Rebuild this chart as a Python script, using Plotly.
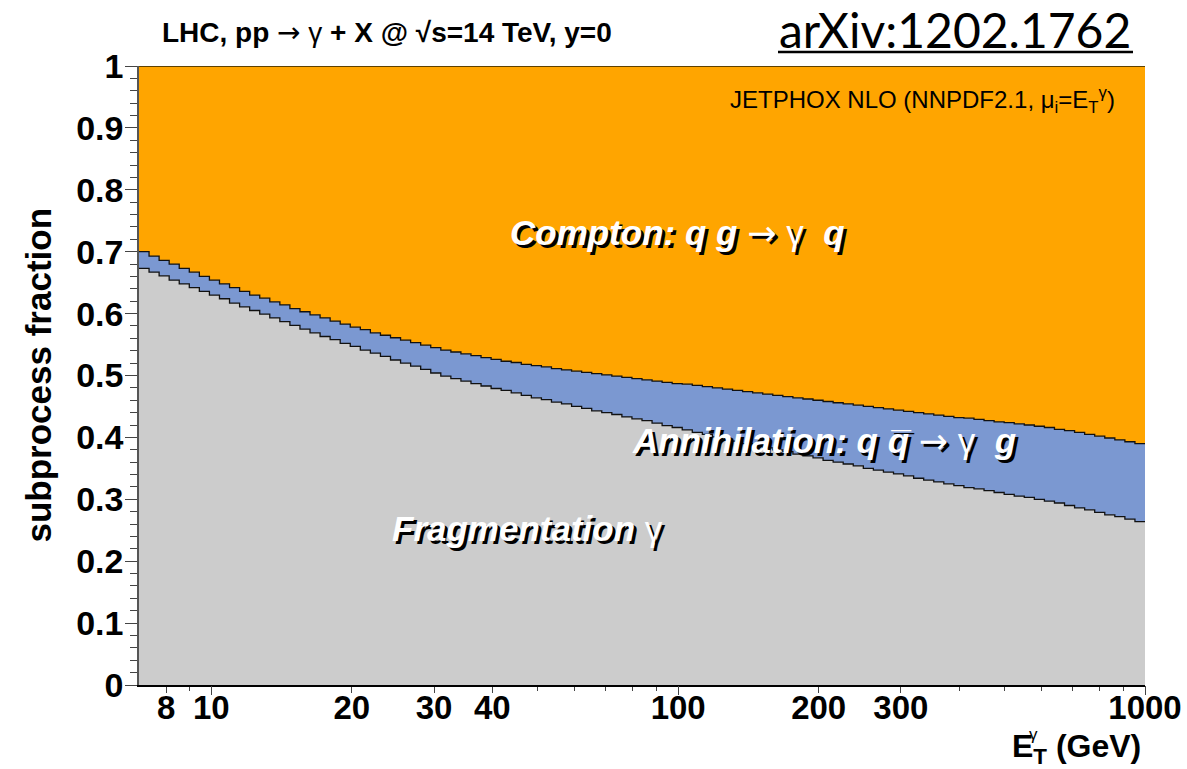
import numpy as np
import plotly.graph_objects as go

# Subprocess fractions vs photon E_T (100 log-spaced bins, 7 GeV - 1 TeV)
et_min, et_max, n_bins = 7.0, 1000.0, 100

# Fragmentation fraction per bin
frag = [
    0.673, 0.667, 0.661, 0.654, 0.648, 0.642, 0.636, 0.630, 0.624, 0.617,
    0.611, 0.605, 0.599, 0.593, 0.587, 0.581, 0.575, 0.569, 0.563, 0.558,
    0.552, 0.547, 0.541, 0.536, 0.531, 0.525, 0.520, 0.515, 0.510, 0.504,
    0.499, 0.495, 0.491, 0.487, 0.483, 0.479, 0.476, 0.472, 0.468, 0.464,
    0.461, 0.457, 0.454, 0.450, 0.447, 0.443, 0.440, 0.437, 0.433, 0.430,
    0.427, 0.423, 0.419, 0.416, 0.412, 0.408, 0.405, 0.401, 0.397, 0.394,
    0.390, 0.387, 0.383, 0.380, 0.377, 0.373, 0.370, 0.367, 0.363, 0.360,
    0.357, 0.354, 0.350, 0.347, 0.344, 0.341, 0.338, 0.334, 0.331, 0.328,
    0.325, 0.322, 0.319, 0.317, 0.314, 0.311, 0.308, 0.305, 0.303, 0.300,
    0.297, 0.294, 0.290, 0.286, 0.283, 0.279, 0.275, 0.272, 0.268, 0.264,
]

# Fragmentation + annihilation (stacked) per bin; Compton fills the rest up to 1
frag_annih = [
    0.700, 0.693, 0.686, 0.680, 0.673, 0.667, 0.660, 0.654, 0.648, 0.642,
    0.636, 0.630, 0.625, 0.619, 0.614, 0.608, 0.603, 0.598, 0.593, 0.588,
    0.583, 0.578, 0.574, 0.569, 0.565, 0.561, 0.557, 0.553, 0.549, 0.545,
    0.541, 0.538, 0.535, 0.532, 0.529, 0.526, 0.523, 0.521, 0.518, 0.516,
    0.514, 0.511, 0.509, 0.507, 0.505, 0.503, 0.501, 0.499, 0.497, 0.495,
    0.493, 0.491, 0.489, 0.487, 0.486, 0.484, 0.482, 0.480, 0.478, 0.476,
    0.474, 0.472, 0.470, 0.468, 0.466, 0.464, 0.462, 0.460, 0.458, 0.456,
    0.454, 0.452, 0.450, 0.448, 0.446, 0.444, 0.442, 0.440, 0.438, 0.436,
    0.434, 0.432, 0.431, 0.429, 0.427, 0.425, 0.424, 0.422, 0.420, 0.418,
    0.416, 0.413, 0.411, 0.408, 0.405, 0.402, 0.399, 0.396, 0.393, 0.390,
]

x_tick_vals = [8, 10, 20, 30, 40, 100, 200, 300, 1000]
x_tick_text = ["8", "10", "20", "30", "40", "100", "200", "300", "1000"]
x_minor_vals = [9, 50, 60, 70, 80, 90, 400, 500, 600, 700, 800, 900]
x_decades = [10, 100, 1000]

C_FRAG = "#cccccc"
C_ANNIH = "#7b98d1"
C_COMPTON = "#ffa500"
FONT = "Liberation Sans, Arial, Helvetica, sans-serif"
ARROW = "<span style='font-family:DejaVu Sans;font-weight:normal;font-style:normal'>→</span>"
GAMMA = "<span style='font-weight:normal;font-style:normal'>γ</span>"

edges = np.logspace(np.log10(et_min), np.log10(et_max), n_bins + 1)


def steps(vals):
    # repeat last bin value so the hv step closes at the upper edge
    return list(vals) + [vals[-1]]


fig = go.Figure()
fig.add_trace(go.Scatter(
    x=edges, y=steps(frag), mode="lines", line_shape="hv",
    line=dict(color="#111111", width=1.3), fill="tozeroy", fillcolor=C_FRAG,
    name="Fragmentation", showlegend=False, hoverinfo="skip"))
fig.add_trace(go.Scatter(
    x=edges, y=steps(frag_annih), mode="lines", line_shape="hv",
    line=dict(color="#111111", width=1.3), fill="tonexty", fillcolor=C_ANNIH,
    name="Annihilation", showlegend=False, hoverinfo="skip"))
fig.add_trace(go.Scatter(
    x=edges, y=np.ones(n_bins + 1), mode="lines", line_shape="hv",
    line=dict(color="#2a2000", width=1.5), fill="tonexty", fillcolor=C_COMPTON,
    name="Compton", showlegend=False, hoverinfo="skip"))

xr = [np.log10(et_min), np.log10(et_max)]
fig.update_layout(
    width=1187, height=769, autosize=False,
    margin=dict(l=139, r=42, t=66, b=84),
    paper_bgcolor="white", plot_bgcolor="white",
    font=dict(family=FONT, color="black"),
    xaxis=dict(
        type="log", range=xr, showgrid=False, zeroline=False, automargin=False,
        showline=True, linecolor="black", linewidth=1.5,
        ticks="outside", ticklen=6, tickwidth=1, tickcolor="#444",
        tickmode="array", tickvals=x_tick_vals, ticktext=x_tick_text,
        ticklabelstandoff=-13,
        tickfont=dict(family=FONT, size=33, color="black", weight="bold"),
        minor=dict(ticks="outside", ticklen=4, tickcolor="#444",
                   tickmode="array", tickvals=x_minor_vals),
    ),
    xaxis2=dict(
        type="log", range=xr, overlaying="x", side="bottom", automargin=False,
        showgrid=False, zeroline=False, showline=False,
        ticks="outside", ticklen=9, tickwidth=1, tickcolor="#444",
        tickmode="array", tickvals=x_decades, showticklabels=False,
    ),
    yaxis=dict(
        range=[0, 1], showgrid=False, zeroline=False, automargin=False,
        showline=True, linecolor="#555", linewidth=1.5,
        ticks="outside", ticklen=12, tickwidth=1, tickcolor="#444",
        dtick=0.1, tick0=0, ticklabelstandoff=-5,
        tickfont=dict(family=FONT, size=34, color="black", weight="bold"),
        minor=dict(ticks="outside", ticklen=7, tickcolor="#444", dtick=0.02),
    ),
)
# invisible trace to bind the decade-tick axis
fig.add_trace(go.Scatter(x=[et_min], y=[0], xaxis="x2", mode="markers",
                         marker=dict(opacity=0), showlegend=False,
                         hoverinfo="skip"))


def px_x(px):
    return (px - 139) / 1006


def px_y(py):
    return (685 - py) / 619


ann = []
# header
ann.append(dict(
    x=px_x(160), y=px_y(33), xanchor="left", yanchor="middle",
    text="<b>LHC, pp </b>" + ARROW + " " + GAMMA + "<b> + X @ √s=14 TeV, y=0</b>",
    font=dict(family=FONT, size=28, color="black")))
ann.append(dict(
    x=px_x(955), y=px_y(29), xanchor="center", yanchor="middle",
    text="arXiv:1202.1762",
    font=dict(family="Lato, Open Sans, sans-serif", size=48, color="black")))
ann.append(dict(
    x=px_x(1117), y=px_y(100), xanchor="right", yanchor="middle",
    text="JETPHOX NLO (NNPDF2.1, μ<sub>i</sub>=E<sub>T</sub><sup>γ</sup>)",
    font=dict(family=FONT, size=24, color="black")))

# process labels: white bold italic with a black drop shadow
labels = [
    (508, 233, "<b><i>Compton: q g </i></b>" + ARROW + " " + GAMMA + "<b><i>  q</i></b>"),
    (630, 441, "<b><i>Annihilation: q q\u0305 </i></b>" + ARROW + " " + GAMMA + "<b><i>  g</i></b>"),
    (390, 528, "<b><i>Fragmentation </i></b>" + GAMMA),
]
for lx, ly, txt in labels:
    for col, dx, dy in (("black", 3, -3), ("white", 0, 0)):
        ann.append(dict(
            x=px_x(lx), y=px_y(ly), xanchor="left", yanchor="middle",
            xshift=dx, yshift=dy, text=txt,
            font=dict(family=FONT, size=35, color=col)))

# axis titles
ann.append(dict(
    x=0, y=0.5, xanchor="center", yanchor="middle", xshift=-101,
    textangle=-90, text="<b>subprocess fraction</b>",
    font=dict(family=FONT, size=35, color="black")))
ann.append(dict(
    x=px_x(1143), y=px_y(748), xanchor="right", yanchor="middle",
    text="<b>E<sub>T</sub> (GeV)</b>",
    font=dict(family=FONT, size=32, color="black")))
ann.append(dict(
    x=px_x(1033), y=px_y(734), xanchor="center", yanchor="middle",
    text="γ", font=dict(family=FONT, size=17, color="black")))

for a in ann:
    a.update(xref="paper", yref="paper", showarrow=False)
fig.update_layout(annotations=ann)

# underline of the arXiv reference
fig.add_shape(type="line", xref="paper", yref="paper",
              x0=px_x(778), x1=px_x(1133), y0=px_y(52), y1=px_y(52),
              line=dict(color="black", width=2.5))

fig.write_html("out.html")
